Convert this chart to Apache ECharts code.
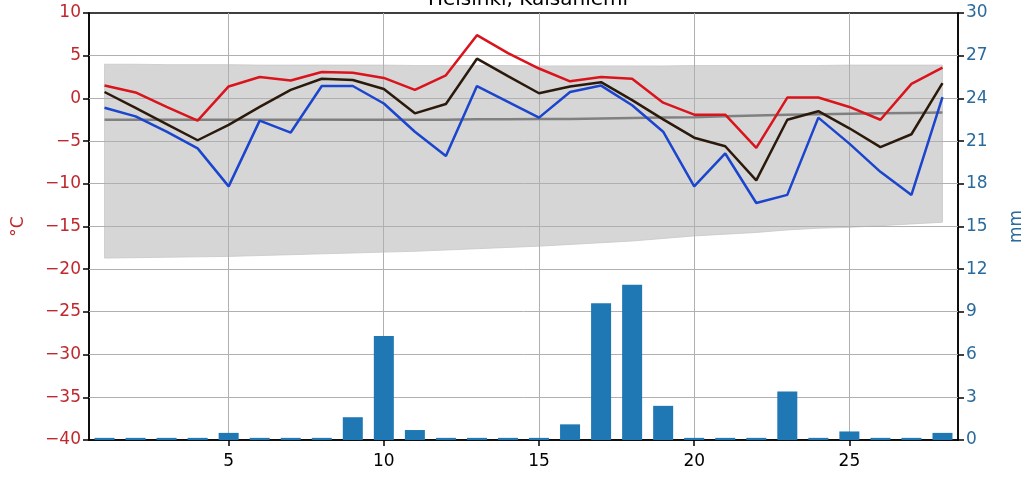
<!DOCTYPE html>
<html>
<head>
<meta charset="utf-8">
<script src="https://cdn.jsdelivr.net/npm/echarts@6/dist/echarts.min.js"></script>
<style>html,body{margin:0;padding:0;background:#fff}#c{width:1034px;height:484px}</style>
</head>
<body>
<div id="c"></div>
<script>
const titleText = 'Helsinki, Kaisaniemi';
const days = [1,2,3,4,5,6,7,8,9,10,11,12,13,14,15,16,17,18,19,20,21,22,23,24,25,26,27,28];
const tmax = [1.5,0.7,-1.0,-2.6,1.4,2.5,2.1,3.1,3.0,2.4,1.0,2.7,7.4,5.3,3.5,2.0,2.5,2.3,-0.5,-1.9,-1.9,-5.8,0.1,0.1,-1.0,-2.5,1.7,3.6];
const tmean = [0.75,-1.1,-3.0,-4.9,-3.1,-1.0,1.0,2.3,2.15,1.1,-1.75,-0.65,4.65,2.6,0.6,1.4,1.9,-0.2,-2.45,-4.6,-5.6,-9.6,-2.5,-1.5,-3.5,-5.7,-4.2,1.8];
const tmin = [-1.1,-2.1,-3.9,-5.85,-10.3,-2.6,-4.0,1.45,1.45,-0.6,-3.9,-6.75,1.45,-0.4,-2.25,0.75,1.5,-0.8,-3.9,-10.3,-6.45,-12.25,-11.3,-2.25,-5.3,-8.6,-11.3,0.15];
const climMean = [-2.5,-2.5,-2.5,-2.5,-2.5,-2.5,-2.5,-2.5,-2.5,-2.5,-2.5,-2.5,-2.45,-2.45,-2.4,-2.4,-2.35,-2.3,-2.25,-2.2,-2.1,-2.0,-1.9,-1.85,-1.8,-1.75,-1.7,-1.65];
const bandTop = [4.0,4.0,3.95,3.95,3.95,3.9,3.9,3.9,3.9,3.9,3.85,3.85,3.85,3.85,3.8,3.8,3.8,3.8,3.8,3.85,3.85,3.85,3.85,3.85,3.9,3.9,3.9,3.9];
const bandBottom = [-18.7,-18.65,-18.6,-18.55,-18.5,-18.4,-18.3,-18.2,-18.1,-18.0,-17.9,-17.75,-17.6,-17.45,-17.3,-17.1,-16.9,-16.7,-16.4,-16.1,-15.9,-15.7,-15.4,-15.2,-15.1,-14.9,-14.7,-14.5];
const precip = [0.15,0.15,0.15,0.15,0.5,0.15,0.15,0.15,1.6,7.3,0.7,0.15,0.15,0.15,0.15,1.1,9.6,10.9,2.4,0.15,0.15,0.15,3.4,0.15,0.6,0.15,0.15,0.5];
const xTicks = [5,10,15,20,25];
const tempTicks = [-40,-35,-30,-25,-20,-15,-10,-5,0,5,10];
const xRange = {min:0.5, max:28.5};
const tempTicksRange = {min:-40, max:10, interval:5};
const mmTicksRange = {min:0, max:30, interval:3};

const pair = arr => days.map((d,i)=>[d,arr[i]]);
const FONT = 'DejaVu Sans';
const tempColor = '#c0282d';
const mmColor = '#2a6a9c';
const gridColor = '#b0b0b0';
const crisp = v => Math.round(v - 0.5) + 0.5;

const chart = echarts.init(document.getElementById('c'), null, {renderer:'canvas'});
chart.setOption({
  animation:false,
  backgroundColor:'#fff',
  title:{text:titleText,left:523,textAlign:'center',top:-15,textStyle:{fontFamily:FONT,fontSize:20,fontWeight:'normal',color:'#000'}},
  grid:{left:89,right:76,top:13,bottom:44,show:true,borderColor:'#000',borderWidth:1.5,backgroundColor:'transparent'},
  xAxis:{type:'value',min:xRange.min,max:xRange.max,
    axisLine:{show:true,onZero:false,lineStyle:{color:'#000',width:1.5}},
    axisTick:{show:true,length:6,lineStyle:{color:'#000',width:1.5},customValues:xTicks},
    axisLabel:{customValues:xTicks,color:'#000',fontFamily:FONT,fontSize:17,margin:13},
    splitLine:{show:false}
  },
  yAxis:[
    {type:'value',position:'left',min:tempTicksRange.min,max:tempTicksRange.max,interval:tempTicksRange.interval,
     name:'°C',nameLocation:'middle',nameGap:62,nameRotate:90,nameTextStyle:{color:tempColor,fontFamily:FONT,fontSize:17},
     axisLine:{show:true,onZero:false,lineStyle:{color:'#000',width:1.5}},
     axisTick:{show:true,length:6,lineStyle:{color:'#000',width:1.5}},
     axisLabel:{color:tempColor,fontFamily:FONT,fontSize:17,margin:8,formatter:v=>String(v).replace('-','\u2212')},
     splitLine:{show:false}},
    {type:'value',position:'right',min:mmTicksRange.min,max:mmTicksRange.max,interval:mmTicksRange.interval,
     name:'mm',nameLocation:'middle',nameGap:50,nameRotate:90,nameTextStyle:{color:mmColor,fontFamily:FONT,fontSize:17},
     axisLine:{show:true,onZero:false,lineStyle:{color:'#000',width:1.5}},
     axisTick:{show:true,length:6,lineStyle:{color:'#000',width:1.5}},
     axisLabel:{color:mmColor,fontFamily:FONT,fontSize:17,margin:8},
     splitLine:{show:false}}
  ],
  series:[
    {type:'custom',yAxisIndex:0,z:1,silent:true,
     data:[0],
     renderItem:(params,api)=>{
       const pts=[];
       days.forEach((d,i)=>pts.push(api.coord([d,bandTop[i]])));
       for(let i=days.length-1;i>=0;i--) pts.push(api.coord([days[i],bandBottom[i]]));
       const children=[{type:'polygon',shape:{points:pts},style:{fill:'#d6d6d6',stroke:'#c8c8c8',lineWidth:0.8}}];
       // grid lines drawn over the band (as matplotlib does)
       xTicks.forEach(t=>{
         const a=api.coord([t,tempTicksRange.max]), b=api.coord([t,tempTicksRange.min]);
         const x=crisp(a[0]);
         children.push({type:'line',shape:{x1:x,y1:a[1],x2:x,y2:b[1]},style:{stroke:gridColor,lineWidth:1}});
       });
       tempTicks.slice(1,-1).forEach(t=>{
         const a=api.coord([xRange.min,t]), b=api.coord([xRange.max,t]);
         const y=crisp(a[1]);
         children.push({type:'line',shape:{x1:a[0],y1:y,x2:b[0],y2:y},style:{stroke:gridColor,lineWidth:1}});
       });
       return {type:'group',children};
     }},
    {type:'line',yAxisIndex:0,data:pair(climMean),showSymbol:false,z:3,lineStyle:{color:'#808080',width:2.5}},
    {type:'bar',yAxisIndex:1,data:pair(precip),barWidth:20,z:3,itemStyle:{color:'#1f77b4'}},
    {type:'line',yAxisIndex:0,data:pair(tmin),showSymbol:false,z:4,lineStyle:{color:'#1a45cc',width:2.5}},
    {type:'line',yAxisIndex:0,data:pair(tmean),showSymbol:false,z:5,lineStyle:{color:'#2b1a0c',width:2.5}},
    {type:'line',yAxisIndex:0,data:pair(tmax),showSymbol:false,z:6,lineStyle:{color:'#d9141c',width:2.5}}
  ]
});
</script>
</body>
</html>
